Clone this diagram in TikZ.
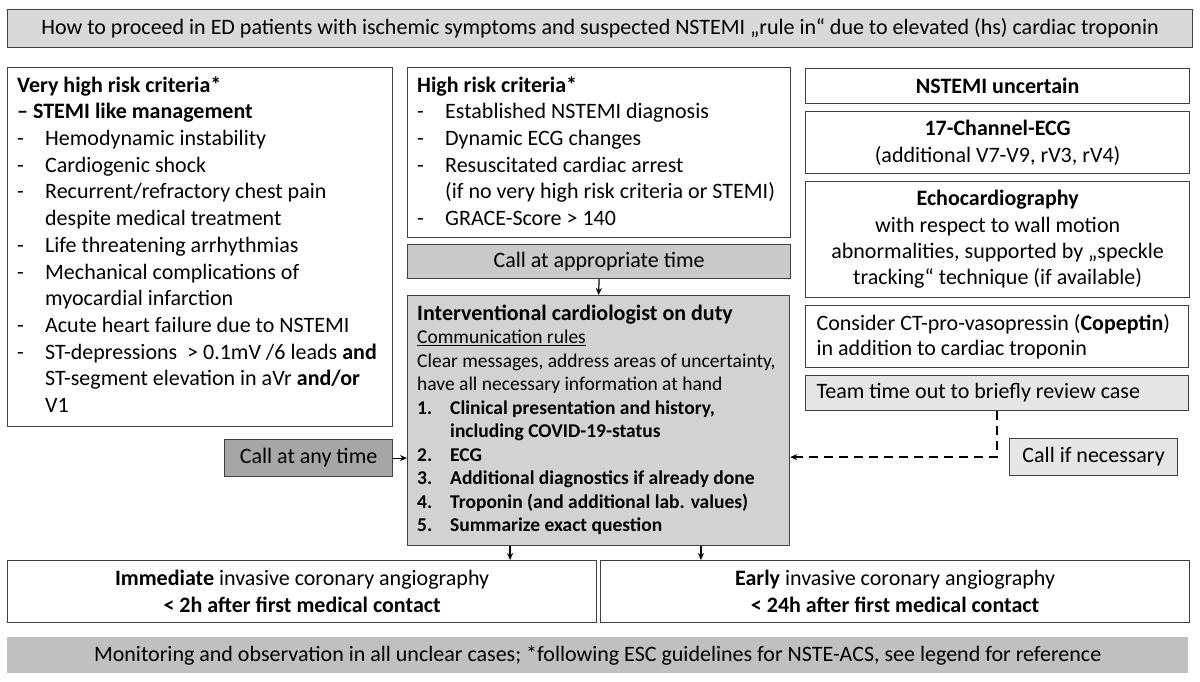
\documentclass[tikz,border=0pt]{standalone}
\usepackage{fontspec}
\setmainfont{Carlito}
\usetikzlibrary{arrows.meta,calc}
\definecolor{bord}{HTML}{404040}
\definecolor{gtop}{HTML}{D9D9D9}
\definecolor{gappr}{HTML}{CACACA}
\definecolor{gintv}{HTML}{D2D2D2}
\definecolor{gany}{HTML}{A6A6A6}
\definecolor{gteam}{HTML}{E6E6E6}
\definecolor{gbot}{HTML}{C0C0C0}
\newcommand\fb{\fontsize{22}{26.7}\selectfont}
\newcommand\fbr{\fontsize{22}{27}\selectfont}
\newcommand\fsm{\fontsize{19.5}{23.5}\selectfont}
\newcommand\hd[1]{\multicolumn{2}{@{}l@{}}{#1}}
\begin{document}
\begin{tikzpicture}[x=1pt,y=-1pt,
  bx/.style={draw=bord, line width=1.2pt, inner sep=0pt, anchor=north west, font=\fb},
  txt/.style={anchor=north west, inner sep=0pt, font=\fb},
  arr/.style={-{Stealth[length=7pt,width=6pt]}, line width=1.2pt, black},
  dsh/.style={dash pattern=on 9pt off 6pt, line width=1.8pt}]
\useasboundingbox (0,0) rectangle (1200,682);

% title banner
\node[bx, fill=gtop, minimum width=1185, minimum height=38] (title) at (7,9)
  {How to proceed in ED patients with ischemic symptoms and suspected NSTEMI „rule in“ due to elevated (hs) cardiac troponin};

% very high risk
\node[bx, minimum width=385, minimum height=359] (vhbox) at (7,67) {};
\node[txt] (vhtext) at (17,73.3) {\begin{tabular}{@{}p{28pt}@{}l@{}}
\hd{\bfseries Very high risk criteria*}\\
\hd{\bfseries – STEMI like management}\\
- & Hemodynamic instability\\
- & Cardiogenic shock\\
- & Recurrent/refractory chest pain\\
  & despite medical treatment\\
- & Life threatening arrhythmias\\
- & Mechanical complications of\\
  & myocardial infarction\\
- & Acute heart failure due to NSTEMI\\
- & ST-depressions \ > 0.1mV /6 leads \textbf{and}\\
  & ST-segment elevation in aVr \textbf{and/or}\\
  & V1
\end{tabular}};

% high risk
\node[bx, minimum width=383, minimum height=170] (hrbox) at (407,67) {};
\node[txt] (hrtext) at (417,73.3) {\begin{tabular}{@{}p{28pt}@{}l@{}}
\hd{\bfseries High risk criteria*}\\
- & Established NSTEMI diagnosis\\
- & Dynamic ECG changes\\
- & Resuscitated cardiac arrest\\
  & (if no very high risk criteria or STEMI)\\
- & GRACE-Score > 140
\end{tabular}};

\node[bx, fill=gappr, minimum width=383, minimum height=34] (appr) at (407,244) {Call at appropriate time};

% interventional cardiologist
\node[bx, fill=gintv, minimum width=382, minimum height=250] (intv) at (407,295) {};
\node[txt, font=\fsm] (intvtext) at (417,303.5) {\begin{tabular}{@{}p{33pt}@{}l@{}}
\hd{\fontsize{22}{23.5}\selectfont\bfseries Interventional cardiologist on duty}\\
\hd{\underline{Communication rules}}\\
\hd{Clear messages, address areas of uncertainty,}\\
\hd{have all necessary information at hand}\\
\bfseries 1. & \bfseries Clinical presentation and history,\\
  & \bfseries including COVID-19-status\\
\bfseries 2. & \bfseries ECG\\
\bfseries 3. & \bfseries Additional diagnostics if already done\\
\bfseries 4. & \bfseries Troponin (and additional lab. values)\\
\bfseries 5. & \bfseries Summarize exact question
\end{tabular}};

\node[bx, fill=gany, minimum width=168, minimum height=37] (any) at (224,439) {Call at any time};

% right column
\node[bx, minimum width=384, minimum height=35] (unc) at (805,68) {\bfseries NSTEMI uncertain};
\node[bx, minimum width=384, minimum height=62, align=center, font=\fbr] (ecg) at (805,111)
  {\textbf{17-Channel-ECG}\\(additional V7-V9, rV3, rV4)};
\node[bx, minimum width=384, minimum height=116, align=center, font=\fontsize{22}{26.3}\selectfont] (echo) at (805,181)
  {\textbf{Echocardiography}\\with respect to wall motion\\abnormalities, supported by „speckle\\tracking“ technique (if available)};
\node[bx, minimum height=62, inner xsep=11pt, font=\fontsize{22}{25}\selectfont] (cop) at (805,305)
  {\parbox{361pt}{\raggedright Consider CT-pro-vasopressin (\textbf{Copeptin})\\in addition to cardiac troponin}};
\node[bx, fill=gteam, minimum height=35, inner xsep=11pt] (team) at (805,375)
  {\parbox{361pt}{\raggedright Team time out to briefly review case}};
\node[bx, fill=gteam, minimum width=168, minimum height=37] (nec) at (1009,438) {Call if necessary};

% bottom boxes
\node[bx, minimum width=589, minimum height=62, align=center, font=\fbr] (imm) at (7,560)
  {\textbf{Immediate} invasive coronary angiography\\\textbf{< 2h after first medical contact}};
\node[bx, minimum width=589, minimum height=62, align=center, font=\fbr] (early) at (600,560)
  {\textbf{Early} invasive coronary angiography\\\textbf{< 24h after first medical contact}};

\node[txt, fill=gbot, minimum width=1181, minimum height=36] (mon) at (7,637)
  {Monitoring and observation in all unclear cases; *following ESC guidelines for NSTE-ACS, see legend for reference};

% connectors
\draw[arr] (appr.south) -- (intv.north);
\draw[arr] (any.east) -- (any.east -| intv.west);
\coordinate (a1) at ($(intv.south west)!0.269!(intv.south east)$);
\coordinate (a2) at ($(intv.south west)!0.767!(intv.south east)$);
\draw[arr] (a1) -- (a1 |- imm.north);
\draw[arr] (a2) -- (a2 |- early.north);
\draw[arr, dsh] (team.south) |- (nec.west -| intv.east);
\end{tikzpicture}
\end{document}
